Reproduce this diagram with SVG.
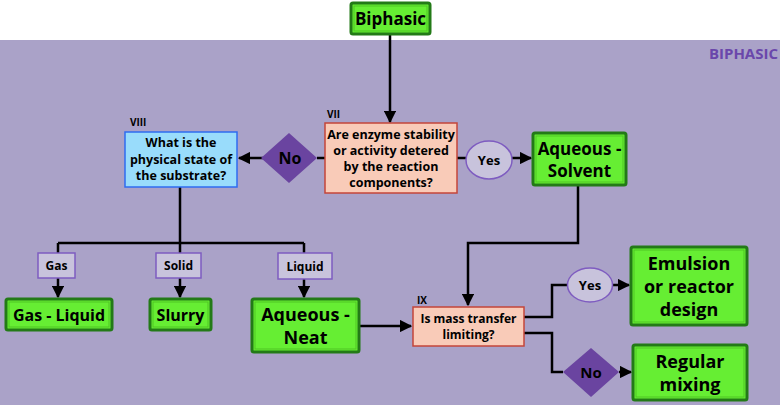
<svg xmlns="http://www.w3.org/2000/svg" width="783" height="409" viewBox="0 0 783 409">
<defs>
<marker id="ah" viewBox="0 0 10 10" refX="9" refY="5" markerWidth="5" markerHeight="5" orient="auto-start-reverse"><path d="M0,0 L10,5 L0,10 z" fill="#000"/></marker>
<style>
text{font-family:"Open Sans","Liberation Sans",Arial,sans-serif;font-weight:bold;fill:#000;text-anchor:middle}
.g{fill:#66ee33;stroke:#237a17;stroke-width:3}
.gi{fill:none;stroke:#4fc524;stroke-width:1}
.lab{fill:#c8c3dc;stroke:#7e5cc0;stroke-width:1.5}
.dia{fill:#6a44a0}
.c{fill:none;stroke:#000;stroke-width:2.5}
.ca{fill:none;stroke:#000;stroke-width:2.5;marker-end:url(#ah)}
.rom{font-size:10px;text-anchor:start}
</style>
</defs>
<rect x="0" y="0" width="783" height="409" fill="#ffffff"/>
<rect x="0" y="40" width="780" height="365" fill="#aaa2c8"/>
<text x="778" y="59" style="fill:#6a47ab;font-size:15px;text-anchor:end">BIPHASIC</text>

<g id="connectors">
<path class="ca" d="M390,34 V122"/>
<path class="c" d="M325,158 H317"/>
<path class="ca" d="M263,158 H239"/>
<path class="c" d="M457,158 H466"/>
<path class="ca" d="M512,158 H531"/>
<path class="c" d="M180,187 V243 M58,243 H304"/>
<path class="c" d="M58,243 V253 M180,243 V253 M304,243 V253"/>
<path class="ca" d="M58,278 V297"/>
<path class="ca" d="M180,278 V297"/>
<path class="ca" d="M304,279 V297"/>
<path class="ca" d="M578,185 V243 H468 V305"/>
<path class="ca" d="M359,326 H411"/>
<path class="c" d="M524,317 H552 V285 H568"/>
<path class="ca" d="M613,285 H629"/>
<path class="c" d="M524,333 H552 V372 H563"/>
<path class="ca" d="M619,372 H631"/>
</g>

<g id="biphasic">
<rect class="g" x="351" y="3" width="79" height="31" rx="2"/>
<rect class="gi" x="354" y="6" width="73" height="25"/>
<text x="390.5" y="25" style="font-size:17px">Biphasic</text>
</g>

<g id="vii">
<text class="rom" x="327" y="118">VII</text>
<rect x="325" y="123" width="132" height="70" fill="#f9cbb8" stroke="#c4463a" stroke-width="1.5"/>
<text x="391" y="139" style="font-size:12.5px">Are enzyme stability</text>
<text x="391" y="155" style="font-size:12.5px">or activity detered</text>
<text x="391" y="171" style="font-size:12.5px">by the reaction</text>
<text x="391" y="187" style="font-size:12.5px">components?</text>
</g>

<g id="no1">
<polygon class="dia" points="289,133 317,158 289,183 261,158"/>
<text x="290" y="164" style="font-size:16px">No</text>
</g>

<g id="viii">
<text class="rom" x="130" y="126">VIII</text>
<rect x="125" y="132" width="112" height="55" fill="#99dcfb" stroke="#2f6cf0" stroke-width="1.5"/>
<text x="181" y="147" style="font-size:12.5px">What is the</text>
<text x="181" y="164" style="font-size:12.5px">physical state of</text>
<text x="181" y="180" style="font-size:12.5px">the substrate?</text>
</g>

<g id="yes1">
<ellipse class="lab" cx="489" cy="160" rx="23" ry="19"/>
<text x="489" y="165" style="font-size:13px">Yes</text>
</g>

<g id="aq-solvent">
<rect class="g" x="533" y="133" width="93" height="52" rx="2"/>
<rect class="gi" x="536" y="136" width="87" height="46"/>
<text x="579.5" y="155" style="font-size:17px">Aqueous -</text>
<text x="579.5" y="177" style="font-size:17px">Solvent</text>
</g>

<g id="gas">
<rect class="lab" x="38" y="253" width="37" height="25"/>
<text x="56.5" y="270" style="font-size:12px">Gas</text>
</g>
<g id="solid">
<rect class="lab" x="156" y="253" width="45" height="25"/>
<text x="178.5" y="270" style="font-size:12px">Solid</text>
</g>
<g id="liquid">
<rect class="lab" x="278" y="253" width="54" height="26"/>
<text x="305" y="271" style="font-size:12px">Liquid</text>
</g>

<g id="gas-liquid">
<rect class="g" x="6" y="299" width="106" height="31" rx="2"/>
<rect class="gi" x="9" y="302" width="100" height="25"/>
<text x="59" y="321" style="font-size:16px">Gas - Liquid</text>
</g>
<g id="slurry">
<rect class="g" x="150" y="299" width="61" height="31" rx="2"/>
<rect class="gi" x="153" y="302" width="55" height="25"/>
<text x="180.5" y="321" style="font-size:16px">Slurry</text>
</g>
<g id="aq-neat">
<rect class="g" x="252" y="299" width="107" height="53" rx="2"/>
<rect class="gi" x="255" y="302" width="101" height="47"/>
<text x="305.5" y="321" style="font-size:18px">Aqueous -</text>
<text x="305.5" y="344" style="font-size:18px">Neat</text>
</g>

<g id="ix">
<text class="rom" x="417" y="304">IX</text>
<rect x="413" y="307" width="111" height="39" fill="#f9cbb8" stroke="#c4463a" stroke-width="1.5"/>
<text x="468.5" y="323" style="font-size:12px">Is mass transfer</text>
<text x="468.5" y="339" style="font-size:12px">limiting?</text>
</g>

<g id="yes2">
<ellipse class="lab" cx="590" cy="285" rx="22.5" ry="17"/>
<text x="590" y="290" style="font-size:13px">Yes</text>
</g>
<g id="no2">
<polygon class="dia" points="591,348 619,372 591,397 563,372"/>
<text x="591" y="378" style="font-size:15px">No</text>
</g>

<g id="emulsion">
<rect class="g" x="631" y="247" width="116" height="78" rx="2"/>
<rect class="gi" x="634" y="250" width="110" height="72"/>
<text x="689" y="270" style="font-size:18px">Emulsion</text>
<text x="689" y="293" style="font-size:18px">or reactor</text>
<text x="689" y="316" style="font-size:18px">design</text>
</g>
<g id="regular">
<rect class="g" x="633" y="345" width="114" height="55" rx="2"/>
<rect class="gi" x="636" y="348" width="108" height="49"/>
<text x="690" y="368" style="font-size:18px">Regular</text>
<text x="690" y="391" style="font-size:18px">mixing</text>
</g>
</svg>
